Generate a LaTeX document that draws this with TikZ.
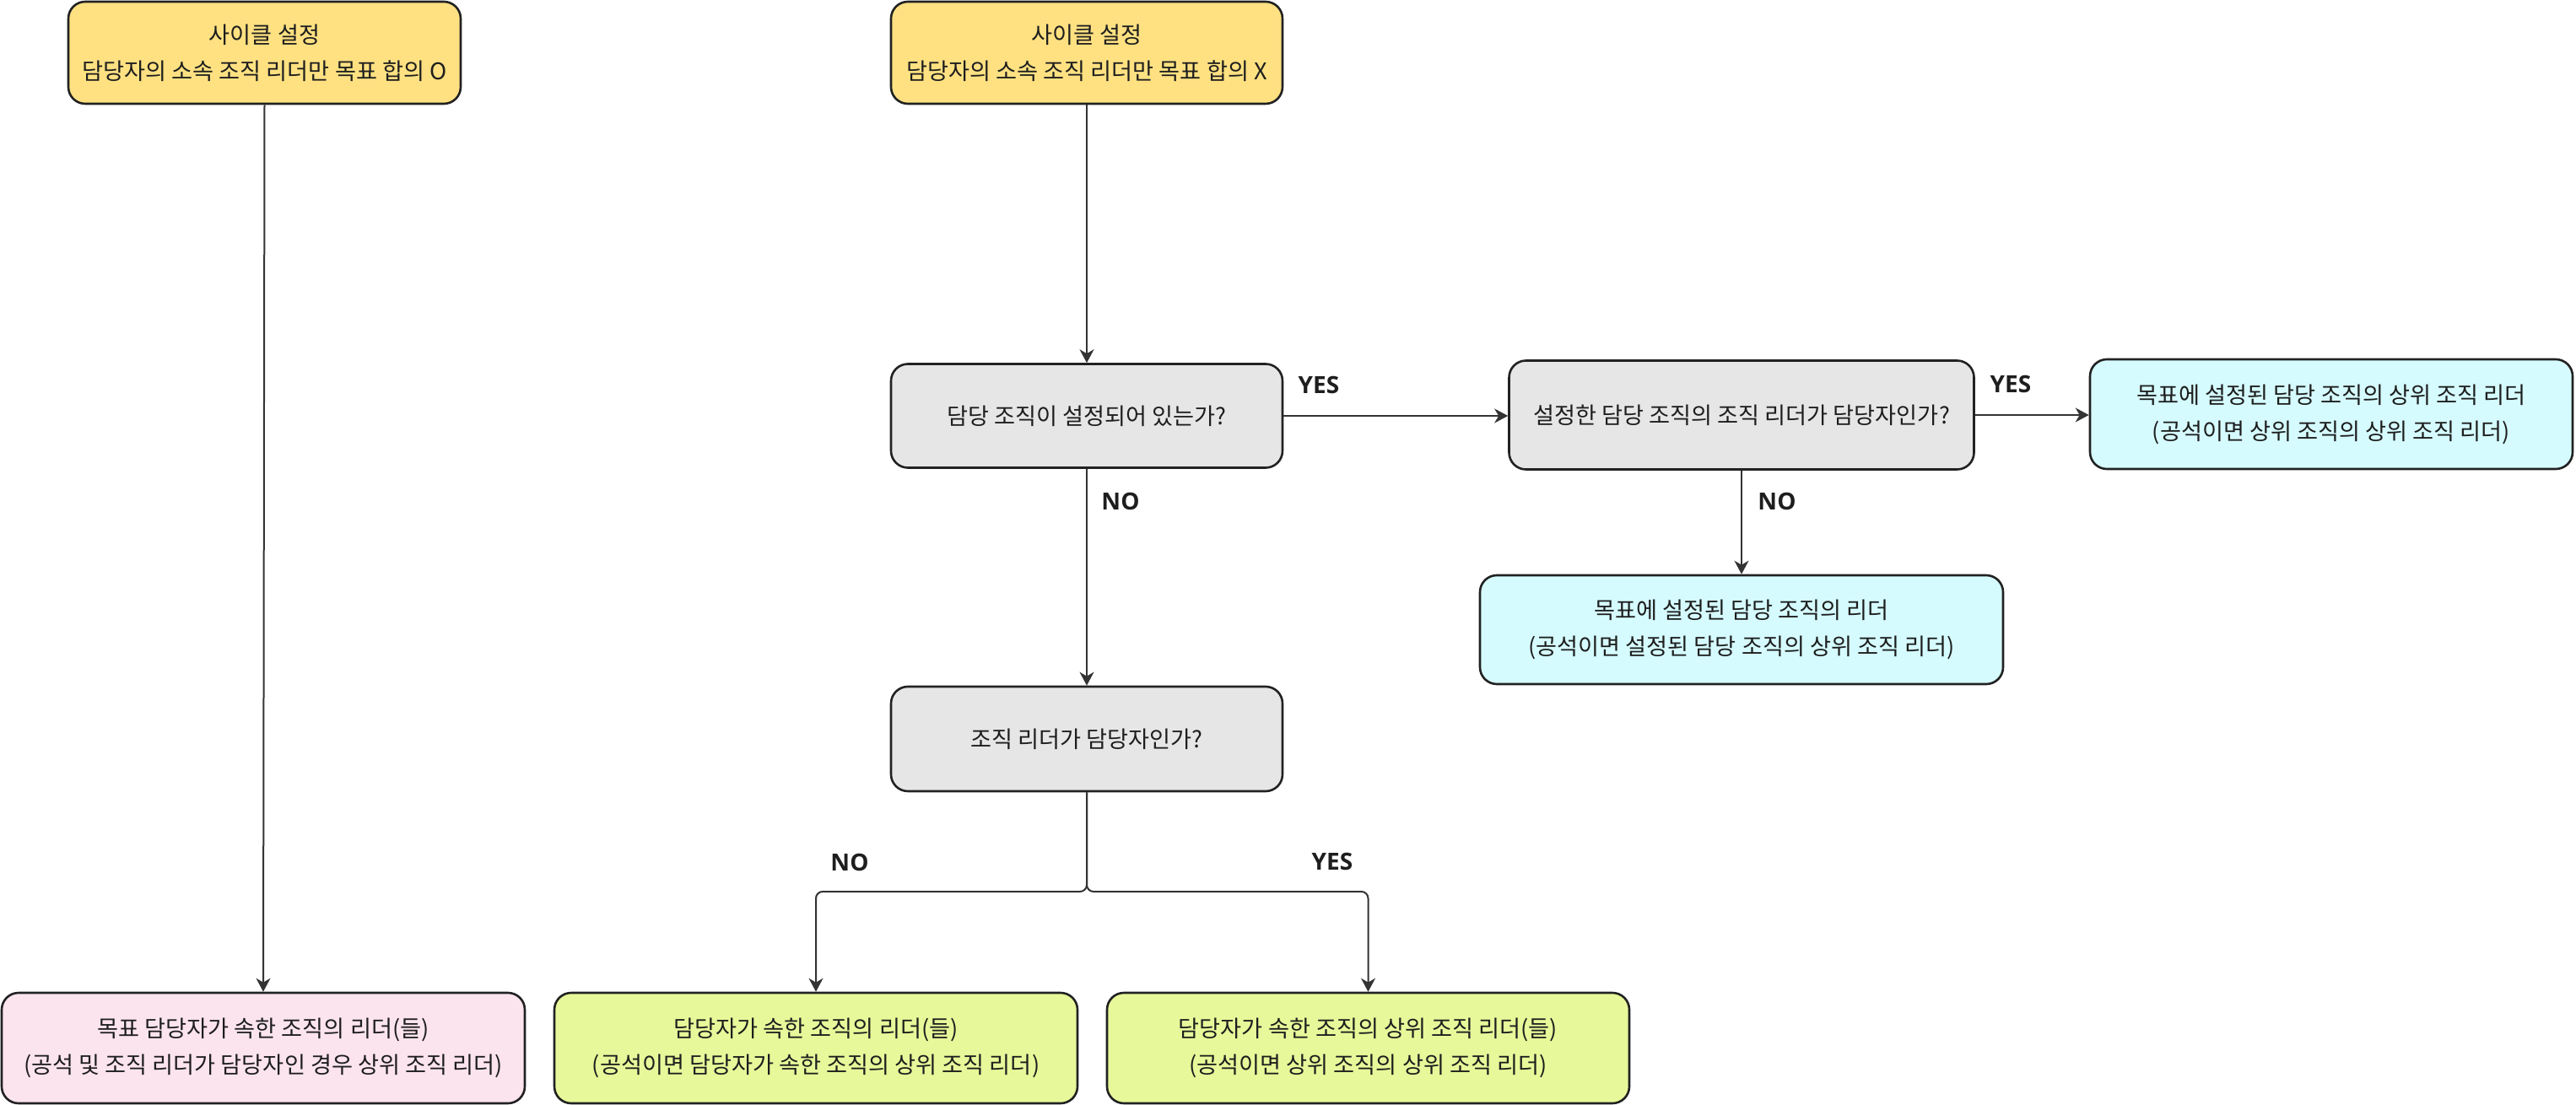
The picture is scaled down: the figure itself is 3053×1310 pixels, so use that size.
\documentclass[tikz,border=0pt]{standalone}
\usepackage{fontspec}
\setmainfont{Noto Sans CJK KR}
\newfontfamily\labelfont{Open Sans}
\usetikzlibrary{arrows.meta}
\definecolor{boxyellow}{HTML}{FFE182}
\definecolor{boxgray}{HTML}{E6E6E6}
\definecolor{boxcyan}{HTML}{D5FBFE}
\definecolor{boxpink}{HTML}{FCE4EE}
\definecolor{boxgreen}{HTML}{E7F89A}
\definecolor{edgecol}{HTML}{333333}
\definecolor{bordercol}{HTML}{222222}
\definecolor{textcol}{HTML}{1E1E1E}
\begin{document}
\begin{tikzpicture}[x=0.5pt,y=-0.5pt,
  box/.style={draw=bordercol, line width=1.3pt, rounded corners=10pt, align=center,
    font=\fontsize{13.6}{21.5}\selectfont, text=textcol, inner sep=0pt},
  conn/.style={draw=edgecol, line width=1pt, -{Stealth[length=8pt,width=8.5pt,inset=2.5pt]}},
  lbl/.style={font=\labelfont\bfseries\fontsize{14}{16}\selectfont, text=textcol, inner sep=0pt}]
\useasboundingbox (0,0) rectangle (3053,1310);

% boxes
\node[box, fill=boxyellow, minimum width=232.5pt, minimum height=60.5pt] (A) at (313.5,62.5)
  {사이클 설정\\담당자의 소속 조직 리더만 목표 합의 O};
\node[box, fill=boxyellow, minimum width=232pt, minimum height=60.5pt] (B) at (1288,62.5)
  {사이클 설정\\담당자의 소속 조직 리더만 목표 합의 X};
\node[box, fill=boxgray, minimum width=232pt, minimum height=61.5pt] (C) at (1288,493)
  {담당 조직이 설정되어 있는가?};
\node[box, fill=boxgray, minimum width=275.5pt, minimum height=64.5pt] (D) at (2064,492)
  {설정한 담당 조직의 조직 리더가 담당자인가?};
\node[box, fill=boxcyan, minimum width=286pt, minimum height=65pt] (E) at (2763,491)
  {목표에 설정된 담당 조직의 상위 조직 리더\\(공석이면 상위 조직의 상위 조직 리더)};
\node[box, fill=boxcyan, minimum width=310pt, minimum height=64.5pt] (F) at (2064,746.5)
  {목표에 설정된 담당 조직의 리더\\(공석이면 설정된 담당 조직의 상위 조직 리더)};
\node[box, fill=boxgray, minimum width=232pt, minimum height=62pt] (G) at (1288,876)
  {조직 리더가 담당자인가?};
\node[box, fill=boxpink, minimum width=310pt, minimum height=65.5pt] (H) at (312,1242.5)
  {목표 담당자가 속한 조직의 리더(들)\\(공석 및 조직 리더가 담당자인 경우 상위 조직 리더)};
\node[box, fill=boxgreen, minimum width=310pt, minimum height=65.5pt] (I) at (967,1242.5)
  {담당자가 속한 조직의 리더(들)\\(공석이면 담당자가 속한 조직의 상위 조직 리더)};
\node[box, fill=boxgreen, minimum width=309.5pt, minimum height=65.5pt] (J) at (1621.5,1242.5)
  {담당자가 속한 조직의 상위 조직 리더(들)\\(공석이면 상위 조직의 상위 조직 리더)};

% connectors
\coordinate (split) at (1288,1057);
\draw[conn] (A.south) -- (H.north);
\draw[conn] (B.south) -- (C.north);
\draw[conn] (C.east) -- (C.east -| D.west);
\draw[conn] (D.east) -- (D.east -| E.west);
\draw[conn] (C.south) -- (G.north);
\draw[conn] (D.south) -- (F.north);
\draw[conn, rounded corners=4pt] (G.south) -- (split) -| (I.north);
\draw[conn, rounded corners=4pt] (G.south) -- (split) -| (J.north);

% labels
\node[lbl] (l1) at (1563,456) {YES};
\node[lbl] (l2) at (2383,455) {YES};
\node[lbl] (l3) at (1328,594) {NO};
\node[lbl] (l4) at (2106,594) {NO};
\node[lbl] (l5) at (1007,1022) {NO};
\node[lbl] (l6) at (1579,1021) {YES};
\end{tikzpicture}
\end{document}
